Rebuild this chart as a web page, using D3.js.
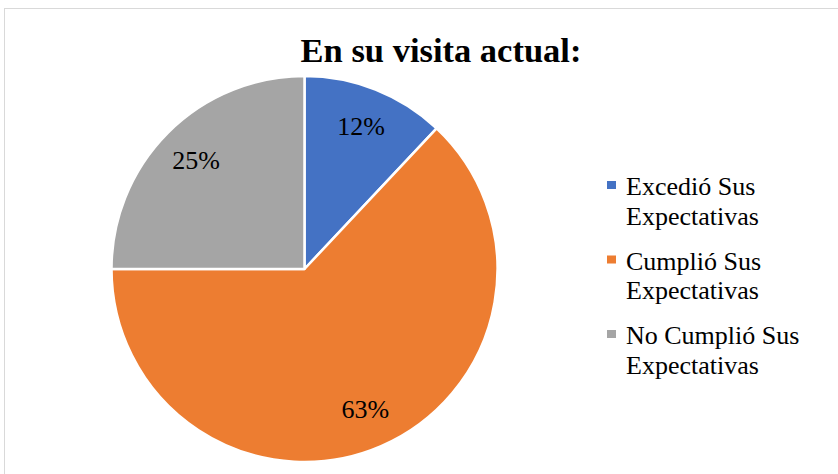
<!DOCTYPE html>
<html>
<head>
<meta charset="utf-8">
<script src="https://cdn.jsdelivr.net/npm/d3@7"></script>
<style>
  body { margin: 0; background: #fff; }
  svg { display: block; }
</style>
</head>
<body>
<svg id="chart"></svg>
<script>
// Chart data
var categories = ["Excedió Sus Expectativas", "Cumplió Sus Expectativas", "No Cumplió Sus Expectativas"];
var legendLines = [["Excedió Sus", "Expectativas"], ["Cumplió Sus", "Expectativas"], ["No Cumplió Sus", "Expectativas"]];
var values = [12, 63, 25];
var pctLabels = ["12%", "63%", "25%"];
var colours = ["#4472C4", "#ED7D31", "#A5A5A5"];

var font = "'Liberation Serif', 'Times New Roman', Times, serif";

var width = 838,
    height = 474,
    radius = 193;

var svg = d3.select("#chart")
    .attr("width", width)
    .attr("height", height);

// Chart area border
svg.append("rect")
    .attr("x", 4.5)
    .attr("y", 8.5)
    .attr("width", 850)
    .attr("height", 480)
    .attr("fill", "#fff")
    .attr("stroke", "#d9d9d9")
    .attr("stroke-width", 1);

// Title
svg.append("text")
    .attr("x", 441)
    .attr("y", 62)
    .attr("text-anchor", "middle")
    .attr("font-family", font)
    .attr("font-size", "34.5px")
    .attr("font-weight", "bold")
    .attr("fill", "#000")
    .text("En su visita actual:");

var colour = d3.scaleOrdinal().domain(categories).range(colours);

var pie = d3.pie()
    .value(function (d) { return d.value; })
    .sort(null);

var arc = d3.arc()
    .innerRadius(0)
    .outerRadius(radius);

var labelArc = d3.arc()
    .innerRadius(radius * 0.795)
    .outerRadius(radius * 0.795);

var data = categories.map(function (c, i) {
    return { label: c, value: values[i], pct: pctLabels[i] };
});

var g = svg.append("g")
    .attr("transform", "translate(304.5,269)");

var slices = g.selectAll(".arc")
    .data(pie(data))
    .enter().append("g")
    .attr("class", "arc");

slices.append("path")
    .attr("d", arc)
    .attr("fill", function (d) { return colour(d.data.label); })
    .attr("stroke", "#fff")
    .attr("stroke-width", 2.5)
    .attr("stroke-linejoin", "round");

slices.append("text")
    .attr("transform", function (d) { return "translate(" + labelArc.centroid(d) + ")"; })
    .attr("dy", "0.33em")
    .attr("text-anchor", "middle")
    .attr("font-family", font)
    .attr("font-size", "26px")
    .attr("fill", "#000")
    .text(function (d) { return d.data.pct; });

// Legend
var legend = svg.append("g")
    .attr("transform", "translate(607,0)");

var item = legend.selectAll(".legend-item")
    .data(categories)
    .enter().append("g")
    .attr("class", "legend-item")
    .attr("transform", function (d, i) { return "translate(0," + (185 + i * 74.5) + ")"; });

item.append("rect")
    .attr("x", 0)
    .attr("y", -4)
    .attr("width", 9)
    .attr("height", 8)
    .attr("fill", function (d) { return colour(d); });

item.append("text")
    .attr("x", 19)
    .attr("y", 10)
    .attr("font-family", font)
    .attr("font-size", "26px")
    .attr("fill", "#000")
    .selectAll("tspan")
    .data(function (d, i) { return legendLines[i]; })
    .enter().append("tspan")
    .attr("x", 19)
    .attr("dy", function (d, j) { return j === 0 ? 0 : 29.5; })
    .text(function (d) { return d; });
</script>
</body>
</html>
